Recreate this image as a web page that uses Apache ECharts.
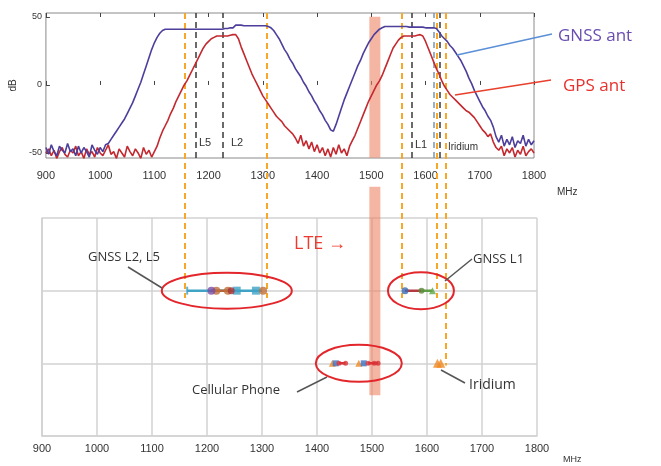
<!DOCTYPE html>
<html>
<head>
<meta charset="utf-8">
<script src="https://cdn.jsdelivr.net/npm/echarts@6/dist/echarts.min.js"></script>
<style>
html, body { margin: 0; padding: 0; background: #fff; }
#main { width: 661px; height: 466px; }
</style>
</head>
<body>
<div id="main"></div>
<script>
// antenna response, sampled every 5 MHz from 900 MHz
var freqStart = 900, freqStep = 5;
var gnssAnt = [
  -46,-51,-44,-49,-52,-45,-48,-50,-43,-49,-47,-52,-45,-50,-46,-49,-53,-44,-48,-51,-46,-49,-44,
  -43,-40,-37,-34,-31,-28,-25,-21,-17,-13,-8,-3,2,8,14,20,26,31,35,38,40,41,
  41,41,41,41,41,41,41,41,41,41,41,41,41,41,41,41,41,41,41,41,41,41.5,41.5,42,42,
  44,44,44,43.5,43.5,43.5,43.5,43.5,43.5,43.5,43.5,43.5,43,
  42,40,37,34,30,26,23,19,16,12,9,6,2,-1,-5,-8,-12,-15,-19,-22,-26,-29,-33,
  -34,-29,-23,-17,-11,-6,-1,4,9,14,18,23,27,31,34,37,39,41,42,43,
  43,43,43,43,43,43,43,43,42.5,42.5,42.5,42.5,42.5,42.5,42,42,42,42,41.5,
  39,36,34,32,29,27,24,21,18,14,10,5,1,-4,-8,-12,-16,-19,-23,-26,-31,-38,
  -42,-37,-45,-40,-44,-38,-46,-41,-43,-37,-45,-40,-44,-41
];
var gpsAnt = [
  -50,-47,-52,-48,-54,-49,-46,-51,-53,-48,-50,-45,-52,-49,-54,-47,-51,-49,-53,-46,-50,
  -52,-48,-44,-51,-49,-54,-47,-50,-53,-45,-49,-52,-47,-50,-54,-46,-51,-48,-53,-49,
  -45,-39,-34,-30,-26,-21,-17,-12,-8,-4,0,3,7,11,15,19,23,27,30,32,34,35,36,36,36,36,36,36.5,37,37,
  34,28,23,18,13,8,4,0,-4,-8,-11,-14,-17,-20,-23,-25,-27,-30,-32,-34,-36,
  -39,-43,-37,-45,-41,-47,-42,-49,-44,-50,-46,-52,-47,-53,-46,-51,-44,-50,-47,-52,-45,-41,
  -37,-32,-27,-22,-17,-12,-8,-4,0,3,7,12,17,22,27,30,33,35,36,36,36,36,36,36.5,37,36,
  32,27,22,17,12,8,3,-1,-4,-7,-9,-11,-13,-15,-17,-19,-20,-22,-24,-27,-30,-33,-35,-38,-36,-42,-46,
  -48,-45,-52,-47,-50,-46,-53,-48,-51,-45,-52,-49,-47,-50
];

// signal frequencies (MHz)
var bandLines = [1176, 1227, 1575, 1616, 1627];
var guideFreqs = [1162, 1311, 1555, 1619, 1635];
var guideEnds = [1.9, 1.9, 1.9, 1.9, 0.97];
var lteBand = [1497, 1517];
var lteSpans = [[5.77, 3.83], [3.43, 0.56]];

// lower chart: row 2 = GNSS, row 1 = cellular / Iridium
var rowGnss = 2, rowCell = 1;
var l25Teal = [1164, 1300];
var l25TealSq = [1254, 1289];
var l25Brown = [1208, 1242];
var l25BrownDots = [1217, 1238, 1302];
var l25Purple = [1208];
var l25Red = [1244];
var l1RedLine = [1560, 1590];
var l1Blue = [1560];
var l1GreenLine = [1590, 1610];
var l1GreenDot = [1590];
var l1GreenTri = [1610];
var cellTri = [1428, 1476];
var cellSq = [1434, 1485];
var cellDots = [1440, 1452, 1493, 1504, 1511];
var cellLineA = [1440, 1452];
var cellLineB = [1493, 1511];
var iridiumTri = [1619, 1625];

function toPairs(vals) {
  return vals.map(function (v, i) { return [freqStart + i * freqStep, v]; });
}
function onRow(xs, y) {
  return xs.map(function (x) { return [x, y]; });
}

var chart = echarts.init(document.getElementById('main'));

var labelFont = { fontFamily: 'Liberation Sans', color: '#333', formatter: function (v) { return String(v); } };

function segment(xs, y, color) {
  return { type: 'line', xAxisIndex: 2, yAxisIndex: 1, data: onRow(xs, y), showSymbol: false,
    lineStyle: { color: color, width: 2.5 }, z: 12, silent: true };
}
function dots(xs, y, color, symbol, size) {
  return { type: 'scatter', xAxisIndex: 2, yAxisIndex: 1, data: onRow(xs, y), symbol: symbol,
    symbolSize: size, itemStyle: { color: color }, z: 13, silent: true };
}

var guideMarks = guideFreqs.map(function (f, i) {
  return [{ coord: [f, 5.82] }, { coord: [f, guideEnds[i]] }];
});

var option = {
  animation: false,
  grid: [
    { left: 40, top: 13, width: 494, height: 145, show: true, borderColor: '#8a8a8a', borderWidth: 1 },
    { left: 42, top: 218, width: 495, height: 218 },
    { left: 41, top: 13, width: 495, height: 423 }
  ],
  xAxis: [
    { gridIndex: 0, type: 'value', min: 900, max: 1800, interval: 100,
      axisLine: { show: false }, splitLine: { show: false },
      axisTick: { inside: true, length: 4, lineStyle: { color: '#444' } },
      axisLabel: Object.assign({ fontSize: 11, margin: 12 }, labelFont) },
    { gridIndex: 0, type: 'value', position: 'top', min: 900, max: 1800, interval: 100,
      axisLine: { show: false }, splitLine: { show: false }, axisLabel: { show: false },
      axisTick: { inside: true, length: 4, lineStyle: { color: '#444' } } },
    { gridIndex: 1, type: 'value', min: 900, max: 1800, interval: 100,
      axisLine: { lineStyle: { color: '#d2d2d2', width: 1.5 } }, axisTick: { show: false },
      splitLine: { show: true, lineStyle: { color: '#d2d2d2', width: 1.5 } },
      axisLabel: Object.assign({ fontSize: 11, margin: 7 }, labelFont) },
    { gridIndex: 2, type: 'value', min: 900, max: 1800, show: false }
  ],
  yAxis: [
    { gridIndex: 0, type: 'value', min: -53.7, max: 52.9,
      name: 'dB', nameLocation: 'middle', nameGap: 25, nameRotate: 90,
      nameTextStyle: { fontSize: 10, color: '#333', fontFamily: 'Liberation Sans' },
      axisLine: { show: false }, splitLine: { show: false },
      axisTick: { inside: true, length: 4, customValues: [-50, 0, 50], lineStyle: { color: '#444' } },
      axisLabel: Object.assign({ fontSize: 9, margin: 4, customValues: [-50, 0, 50] }, labelFont) },
    { gridIndex: 1, type: 'value', min: 0, max: 3, interval: 1,
      axisLine: { show: true, lineStyle: { color: '#d2d2d2', width: 1.5 } },
      axisTick: { show: false }, axisLabel: { show: false },
      splitLine: { show: true, lineStyle: { color: '#d2d2d2', width: 1.5 } } },
    { gridIndex: 2, type: 'value', min: 0, max: 5.82, show: false }
  ],
  series: [
    // LTE band (overlay)
    { type: 'custom', xAxisIndex: 3, yAxisIndex: 2, z: 1, silent: true,
      data: lteSpans.map(function (s) { return [lteBand[0], lteBand[1], s[0], s[1]]; }),
      renderItem: function (params, api) {
        var p0 = api.coord([api.value(0), api.value(2)]);
        var p1 = api.coord([api.value(1), api.value(3)]);
        return { type: 'rect', shape: { x: p0[0], y: p0[1], width: p1[0] - p0[0], height: p1[1] - p0[1] },
          style: { fill: 'rgba(238,128,96,0.58)' } };
      } },
    // orange guides
    { type: 'line', xAxisIndex: 3, yAxisIndex: 2, data: [], z: 11, silent: true,
      markLine: { silent: true, symbol: 'none', label: { show: false },
        lineStyle: { color: '#f7a829', width: 2, type: [6, 4] }, data: guideMarks } },
    // antenna curves
    { name: 'GPS ant', type: 'line', xAxisIndex: 0, yAxisIndex: 0, data: toPairs(gpsAnt),
      showSymbol: false, lineStyle: { color: '#c4282f', width: 1.6 }, z: 10 },
    { name: 'GNSS ant', type: 'line', xAxisIndex: 0, yAxisIndex: 0, data: toPairs(gnssAnt),
      showSymbol: false, lineStyle: { color: '#4c3f9c', width: 1.6 }, z: 10,
      markLine: { silent: true, symbol: 'none', label: { show: false },
        lineStyle: { color: '#3a3a3a', width: 1.5, type: [6, 4] },
        data: bandLines.map(function (f, i) {
          return { xAxis: f, lineStyle: i === 3 ? { color: '#7d95b3' } : {} };
        }) } },
    // GNSS L2/L5 row
    segment(l25Teal, rowGnss, '#3fa3c6'),
    segment(l25Brown, rowGnss, '#b5653c'),
    dots([l25Teal[0]], rowGnss, '#3fa3c6', 'rect', [2, 8]),
    dots(l25TealSq, rowGnss, '#3fa3c6', 'rect', 8),
    dots(l25BrownDots, rowGnss, '#c2703a', 'circle', 8),
    dots(l25Purple, rowGnss, '#7b4ea6', 'circle', 8),
    dots(l25Red, rowGnss, '#a8343a', 'circle', 7),
    // GNSS L1 row
    segment(l1RedLine, rowGnss, '#b53a3f'),
    segment(l1GreenLine, rowGnss, '#5f9e43'),
    dots(l1Blue, rowGnss, '#3a6db5', 'circle', 7),
    dots(l1GreenDot, rowGnss, '#5e8a3e', 'circle', 6),
    dots(l1GreenTri, rowGnss, '#63a847', 'triangle', 7),
    // cellular row
    segment(cellLineA, rowCell, '#d9343a'),
    segment(cellLineB, rowCell, '#d9343a'),
    dots(cellTri, rowCell, '#f08a24', 'triangle', 7),
    dots(cellSq, rowCell, '#3b6fc0', 'rect', 6),
    dots(cellDots, rowCell, '#d9343a', 'circle', 5),
    // Iridium
    dots(iridiumTri, rowCell, '#f08a24', 'triangle', 9)
  ]
};
chart.setOption(option);

// annotations
function ellipseAt(f, row, rx, ry) {
  var c = chart.convertToPixel({ xAxisIndex: 2, yAxisIndex: 1 }, [f, row]);
  return { type: 'ellipse', z: 20, silent: true, shape: { cx: c[0], cy: c[1], rx: rx, ry: ry },
    style: { fill: null, stroke: '#e2262b', lineWidth: 2 } };
}
function txt(s, x, y, size, color, font, align) {
  return { type: 'text', z: 20, silent: true,
    style: { text: s, x: x, y: y, fill: color, fontSize: size, fontFamily: font,
      align: align || 'left', verticalAlign: 'middle' } };
}
function leader(x1, y1, x2, y2, color) {
  return { type: 'line', z: 20, silent: true, shape: { x1: x1, y1: y1, x2: x2, y2: y2 },
    style: { stroke: color, lineWidth: 1.5 } };
}

chart.setOption({
  graphic: [
    ellipseAt(1236, rowGnss, 65, 18),
    ellipseAt(1589, rowGnss, 33, 18.5),
    ellipseAt(1476, rowCell, 43, 18.5),
    txt('L5', 205, 143, 11, '#333', 'Liberation Sans', 'center'),
    txt('L2', 237, 143, 11, '#333', 'Liberation Sans', 'center'),
    txt('L1', 421, 145, 11, '#333', 'Liberation Sans', 'center'),
    txt('Iridium', 463, 147, 10, '#333', 'Liberation Sans', 'center'),
    txt('MHz', 557, 192, 10, '#333', 'Liberation Sans'),
    txt('MHz', 563, 460, 9, '#333', 'Liberation Sans'),
    txt('GNSS ant', 558, 36, 17, '#6a4cb2', 'Open Sans'),
    txt('GPS ant', 563, 86, 17, '#e8302c', 'Open Sans'),
    leader(457, 55, 552, 34, '#5b8fd6'),
    leader(455, 95, 551, 80, '#e8402c'),
    txt('LTE \u2192', 294, 244, 18, '#ee3a2e', 'Open Sans'),
    txt('GNSS L2, L5', 88, 257, 13, '#333', 'Open Sans'),
    txt('GNSS L1', 473, 259, 13, '#333', 'Open Sans'),
    txt('Cellular Phone', 192, 390, 13, '#333', 'Open Sans'),
    txt('Iridium', 469, 385, 14, '#333', 'Open Sans'),
    leader(128, 267, 162, 288, '#555'),
    leader(472, 259, 445, 281, '#555'),
    leader(297, 392, 327, 377, '#555'),
    leader(441, 370, 465, 383, '#555')
  ]
});
</script>
</body>
</html>
